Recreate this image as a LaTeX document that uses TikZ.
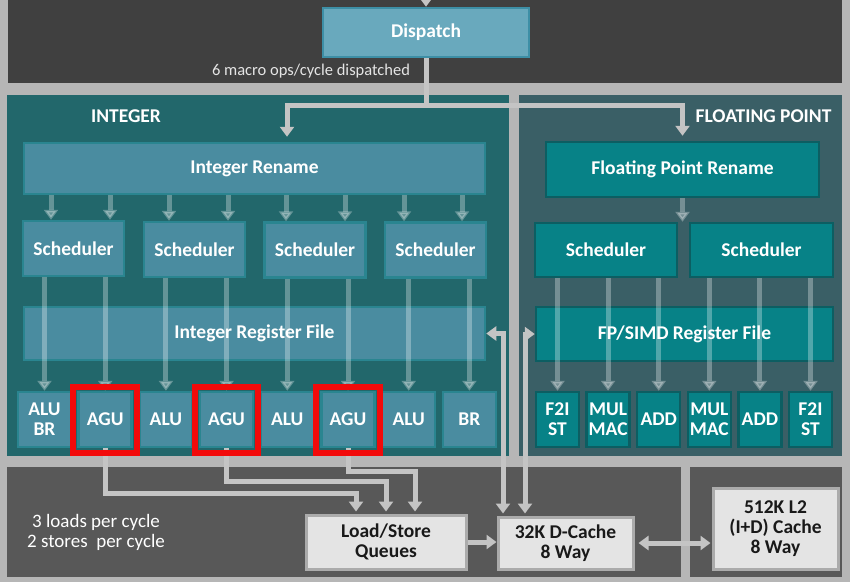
\documentclass[tikz,border=0pt]{standalone}
\usepackage{fontspec}
\setmainfont{Carlito}
\usetikzlibrary{arrows.meta}
\definecolor{bggray}{HTML}{B6B6B6}
\definecolor{darktop}{HTML}{404040}
\definecolor{darkbot}{HTML}{585858}
\definecolor{intpanel}{HTML}{22676B}
\definecolor{fppanel}{HTML}{3A5F66}
\definecolor{intfill}{HTML}{4A8CA0}
\definecolor{intdraw}{HTML}{2A8590}
\definecolor{fpfill}{HTML}{078287}
\definecolor{fpdraw}{HTML}{0C5E62}
\definecolor{dispfill}{HTML}{69A9BD}
\definecolor{dispdraw}{HTML}{3D8FA6}
\definecolor{lightfill}{HTML}{E4E4E4}
\definecolor{lightdraw}{HTML}{ABABAB}
\definecolor{arrgray}{HTML}{C4C4C4}
\definecolor{hilite}{HTML}{F20A0A}
\begin{document}
\begin{tikzpicture}[x=1pt,y=-1pt,
  lbl/.style={font=\fontsize{19.5}{20}\selectfont\bfseries, align=center},
  box/.style={rectangle, inner sep=0pt, line width=2.5pt, lbl, text=white},
  intbox/.style={box, fill=intfill, draw=intdraw},
  fpbox/.style={box, fill=fpfill, draw=fpdraw},
  dispbox/.style={box, fill=dispfill, draw=dispdraw},
  lightbox/.style={rectangle, inner sep=0pt, line width=3pt, lbl, fill=lightfill, draw=lightdraw, text=black!90},
  iunit/.style={intbox, minimum width=53pt, minimum height=55pt},
  funit/.style={fpbox, minimum width=43pt, minimum height=55pt},
  mainarr/.style={draw=arrgray, line width=5pt, -{Triangle[width=14pt,length=10pt]}},
  mainline/.style={draw=arrgray, line width=5pt},
  biarr/.style={draw=arrgray, line width=5pt, {Triangle[width=14pt,length=10pt]}-{Triangle[width=14pt,length=10pt]}},
  innerarr/.style={draw=white, opacity=0.3, line width=5pt, -{Triangle[width=14pt,length=10pt]}},
  hibox/.style={draw=hilite, line width=6pt},
  plain/.style={text=white, font=\fontsize{19}{20}\selectfont, align=center},
  paneltitle/.style={text=white, font=\fontsize{19.5}{20}\selectfont\bfseries}
]
% background and panels
\fill[bggray] (0,0) rectangle (850,582);
\useasboundingbox (0,0) rectangle (850,582);
\fill[darktop] (8,0) rectangle (842,83);
\fill[intpanel] (7,95) rectangle (509,456);
\fill[fppanel] (519,95) rectangle (842,456);
\fill[darkbot] (7,467) rectangle (681,577);
\fill[darkbot] (690,467) rectangle (842,577);

% dispatch
\node[dispbox, minimum width=206pt, minimum height=49pt] (disp) at (426,32.5) {Dispatch};
\node[text=white!90!black, font=\fontsize{16.5}{18}\selectfont, anchor=center] (dlabel) at (311,71) {6 macro ops/cycle dispatched};
\coordinate (topin) at (426,-12);
\coordinate (split) at (426,105);

\node[paneltitle] (inttitle) at (126,116) {INTEGER};
\node[paneltitle] (fptitle) at (763.5,116) {FLOATING POINT};

% integer side
\node[intbox, minimum width=461pt, minimum height=51pt] (intren) at (254.5,168.5) {Integer Rename};
\node[intbox, minimum width=101pt, minimum height=55pt] (is1) at (73.5,248.5) {Scheduler};
\node[intbox, minimum width=101pt, minimum height=55pt] (is2) at (194.5,249.5) {Scheduler};
\node[intbox, minimum width=101pt, minimum height=55pt] (is3) at (315,250) {Scheduler};
\node[intbox, minimum width=101pt, minimum height=55pt] (is4) at (435.5,250) {Scheduler};
\node[intbox, minimum width=461pt, minimum height=53pt] (intreg) at (254.5,333.5) {Integer Register File};

\node[iunit] (u0) at (44.5,419.5) {ALU\\BR};
\node[iunit] (u1) at (105.2,419.5) {AGU};
\node[iunit] (u2) at (165.9,419.5) {ALU};
\node[iunit] (u3) at (226.6,419.5) {AGU};
\node[iunit] (u4) at (287.3,419.5) {ALU};
\node[iunit] (u5) at (348,419.5) {AGU};
\node[iunit] (u6) at (408.7,419.5) {ALU};
\node[iunit] (u7) at (469.4,419.5) {BR};

% floating point side
\node[fpbox, minimum width=273pt, minimum height=55pt] (fpren) at (682.5,169.5) {Floating Point Rename};
\node[fpbox, minimum width=142pt, minimum height=54pt] (fs1) at (606,250) {Scheduler};
\node[fpbox, minimum width=143pt, minimum height=54pt] (fs2) at (761.5,250) {Scheduler};
\node[fpbox, minimum width=297pt, minimum height=54pt] (fpreg) at (684.5,334) {FP/SIMD Register File};

\node[funit] (f0) at (557.5,419.5) {F2I\\ST};
\node[funit] (f1) at (608.1,419.5) {MUL\\MAC};
\node[funit] (f2) at (658.7,419.5) {ADD};
\node[funit] (f3) at (709.3,419.5) {MUL\\MAC};
\node[funit] (f4) at (759.9,419.5) {ADD};
\node[funit] (f5) at (810.5,419.5) {F2I\\ST};

% memory side
\node[lightbox, minimum width=160pt, minimum height=54pt] (lsq) at (386,542) {Load/Store\\Queues};
\node[lightbox, minimum width=135pt, minimum height=52pt] (dc) at (565.5,543) {32K D-Cache\\8 Way};
\node[lightbox, minimum width=125pt, minimum height=81pt] (l2) at (775.5,528.5) {512K L2\\(I+D) Cache\\8 Way};

\node[plain] (loads) at (96,532) {3 loads per cycle\\2 stores~ per cycle};

% dispatch arrows
\draw[mainarr] (topin) -- (disp.north);
\draw[mainline] (disp.south) -- (split);
\draw[mainarr, shorten >=5pt] (split) -| ([xshift=32.5pt]intren.north);
\draw[mainarr, shorten >=5pt] (split) -| (fpren.north);

% rename -> schedulers (integer)
\foreach \s/\a/\b in {is1/-22.5/36.5, is2/-25.5/33.5, is3/-29/30, is4/-31.5/26.5}{
  \draw[innerarr] ([xshift=\a pt]\s.north |- intren.south) -- ([xshift=\a pt]\s.north);
  \draw[innerarr] ([xshift=\b pt]\s.north |- intren.south) -- ([xshift=\b pt]\s.north);
}
% schedulers -> units (integer)
\draw[innerarr] (u0.north |- is1.south) -- (u0.north);
\draw[innerarr] (u1.north |- is1.south) -- (u1.north);
\draw[innerarr] (u2.north |- is2.south) -- (u2.north);
\draw[innerarr] (u3.north |- is2.south) -- (u3.north);
\draw[innerarr] (u4.north |- is3.south) -- (u4.north);
\draw[innerarr] (u5.north |- is3.south) -- (u5.north);
\draw[innerarr] (u6.north |- is4.south) -- (u6.north);
\draw[innerarr] (u7.north |- is4.south) -- (u7.north);

% FP rename -> schedulers, schedulers -> units
\draw[innerarr] (fpren.south) -- (fpren.south |- fs1.north);
\draw[innerarr] (f0.north |- fs1.south) -- (f0.north);
\draw[innerarr] (f1.north |- fs1.south) -- (f1.north);
\draw[innerarr] (f2.north |- fs1.south) -- (f2.north);
\draw[innerarr] (f3.north |- fs2.south) -- (f3.north);
\draw[innerarr] (f4.north |- fs2.south) -- (f4.north);
\draw[innerarr] (f5.north |- fs2.south) -- (f5.north);

% AGU -> load/store queues
\draw[mainarr, shorten >=2pt] (u1.south) -- ++(0,45) -| ([xshift=-30pt]lsq.north);
\draw[mainarr, shorten >=2pt] (u3.south) -- ++(0,33) -| (lsq.north);
\draw[mainarr, shorten >=2pt] (u5.south) -- ++(0,23) -| ([xshift=29pt]lsq.north);

% red highlight boxes
\foreach \u in {u1,u3,u5}{
  \draw[hibox] ([shift={(-4pt,-5pt)}]\u.south west) rectangle ([shift={(4pt,4pt)}]\u.north east);
}

% memory arrows
\draw[mainarr] (lsq.east) -- (lsq.east -| dc.west);
\draw[biarr, shorten <=4pt, shorten >=1pt] (dc.east) -- (dc.east -| l2.west);
\draw[biarr, shorten >=2pt] (intreg.east) -| ([xshift=-62.5pt]dc.north);
\draw[biarr, shorten >=2pt] (fpreg.west) -| ([xshift=-40.5pt]dc.north);
\end{tikzpicture}
\end{document}
